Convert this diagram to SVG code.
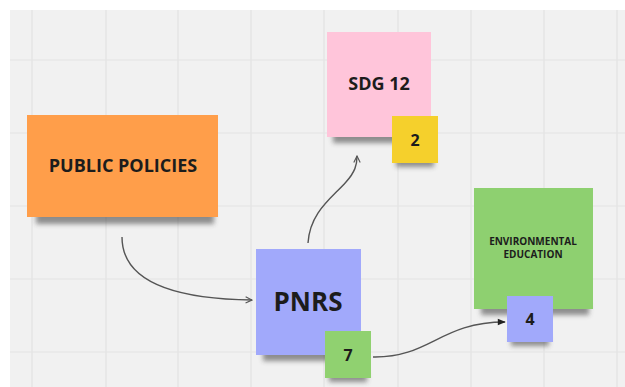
<svg xmlns="http://www.w3.org/2000/svg" width="625" height="387" viewBox="0 0 625 387">
<style>
.grid{stroke:#e3e3e3;stroke-width:1.2}
.lbl{font-family:"Open Sans","Noto Sans","Liberation Sans",sans-serif;font-weight:700;fill:#1c1c1c;text-anchor:middle}
.conn{fill:none;stroke:#555;stroke-width:1.4}
.shadow{fill:#3a3a3a;opacity:.55}
</style>
<defs>
<filter id="blur" x="-20%" y="-100%" width="140%" height="300%"><feGaussianBlur stdDeviation="2.5"/></filter>
<marker id="open" viewBox="0 0 10 10" refX="9" refY="5" markerWidth="8" markerHeight="8" markerUnits="userSpaceOnUse" orient="auto"><path d="M1,1 L9,5 L1,9" fill="none" stroke="#555" stroke-width="1.4"/></marker>
<marker id="solid" viewBox="0 0 10 10" refX="9" refY="5" markerWidth="10" markerHeight="8" markerUnits="userSpaceOnUse" orient="auto"><path d="M0,1 L10,5 L0,9 Z" fill="#222"/></marker>
</defs>
<rect width="625" height="387" fill="#ffffff"/>
<rect x="10" y="10" width="615" height="377" fill="#f1f1f1"/>
<g id="grid">
<line class="grid" x1="32" y1="10" x2="32" y2="387"/>
<line class="grid" x1="106" y1="10" x2="106" y2="387"/>
<line class="grid" x1="178" y1="10" x2="178" y2="387"/>
<line class="grid" x1="251" y1="10" x2="251" y2="387"/>
<line class="grid" x1="324" y1="10" x2="324" y2="387"/>
<line class="grid" x1="398" y1="10" x2="398" y2="387"/>
<line class="grid" x1="471" y1="10" x2="471" y2="387"/>
<line class="grid" x1="544" y1="10" x2="544" y2="387"/>
<line class="grid" x1="617" y1="10" x2="617" y2="387"/>
<line class="grid" x1="10" y1="60" x2="625" y2="60"/>
<line class="grid" x1="10" y1="133" x2="625" y2="133"/>
<line class="grid" x1="10" y1="206" x2="625" y2="206"/>
<line class="grid" x1="10" y1="279" x2="625" y2="279"/>
<line class="grid" x1="10" y1="352" x2="625" y2="352"/>
</g>
<g id="connectors">
<path class="conn" d="M122,237 C122,282 175,299 252,300" marker-end="url(#open)"/>
<path class="conn" d="M308,243 C310,212 332,198 346,182 C355,172 357,165 357,156" marker-end="url(#open)"/>
<path class="conn" d="M373,357 C430,358 440,322 505,322" marker-end="url(#solid)"/>
</g>
<g id="public-policies">
<rect class="shadow" x="36" y="210" width="178" height="14" filter="url(#blur)"/>
<rect x="27" y="115" width="191" height="102" fill="#ff9e4a"/>
<text class="lbl" x="123" y="172" font-size="18">PUBLIC POLICIES</text>
</g>
<g id="sdg12">
<rect class="shadow" x="333" y="130" width="94" height="13" filter="url(#blur)"/>
<rect x="327" y="32" width="104" height="105" fill="#ffc5da"/>
<text class="lbl" x="379" y="90" font-size="18">SDG 12</text>
</g>
<g id="badge-2">
<rect class="shadow" x="396" y="157" width="38" height="10" filter="url(#blur)"/>
<rect x="392" y="116" width="46" height="47" fill="#f5d02c"/>
<text class="lbl" x="415" y="145.5" font-size="16">2</text>
</g>
<g id="pnrs">
<rect class="shadow" x="263" y="348" width="94" height="13" filter="url(#blur)"/>
<rect x="256" y="249" width="105" height="106" fill="#a1a9fb"/>
<text class="lbl" x="308" y="311" font-size="26">PNRS</text>
</g>
<g id="badge-7">
<rect class="shadow" x="329" y="372" width="38" height="10" filter="url(#blur)"/>
<rect x="325" y="331" width="46" height="47" fill="#90d170"/>
<text class="lbl" x="348" y="360.5" font-size="16">7</text>
</g>
<g id="environmental-education">
<rect class="shadow" x="481" y="302" width="108" height="13" filter="url(#blur)"/>
<rect x="474" y="188" width="119" height="121" fill="#8ed070"/>
<text class="lbl" x="533" y="245" font-size="10">ENVIRONMENTAL</text>
<text class="lbl" x="533" y="258" font-size="10">EDUCATION</text>
</g>
<g id="badge-4">
<rect class="shadow" x="511" y="336" width="38" height="10" filter="url(#blur)"/>
<rect x="507" y="296" width="46" height="46" fill="#a1a9fb"/>
<text class="lbl" x="530" y="325" font-size="16">4</text>
</g>
</svg>
